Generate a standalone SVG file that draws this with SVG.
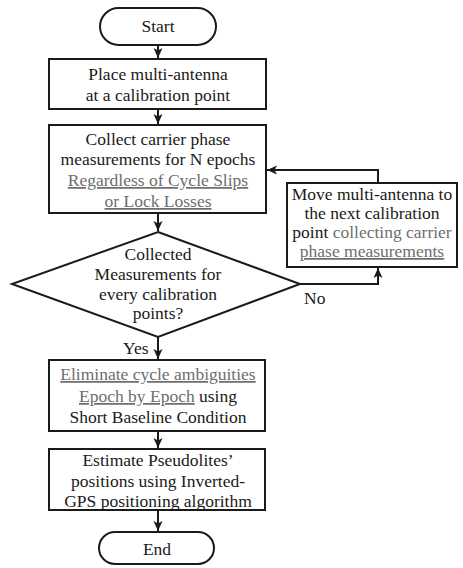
<svg xmlns="http://www.w3.org/2000/svg" width="463" height="568" viewBox="0 0 463 568">
<defs>
<marker id="ah" markerUnits="userSpaceOnUse" markerWidth="10" markerHeight="10" viewBox="0 0 10 10" refX="10" refY="5" orient="auto">
<path d="M0,0.5 L10,5 L0,9.5 L2.5,5 Z" fill="#1a1a1a"/>
</marker>
<style>
.s{fill:#fff;stroke:#1a1a1a;stroke-width:2}
.c{fill:none;stroke:#1a1a1a;stroke-width:2}
text{font-family:"Liberation Serif","Times New Roman",serif;font-size:17.5px;fill:#1a1a1a;text-anchor:middle}
.g{fill:#6e6e6e}
.u{text-decoration:underline}
.l{text-anchor:start}
</style>
</defs>
<g id="connectors">
<path class="c" d="M158,45 V58" marker-end="url(#ah)"/>
<path class="c" d="M158,109 V124" marker-end="url(#ah)"/>
<path class="c" d="M158,213 V231" marker-end="url(#ah)"/>
<path class="c" d="M158,337 V359" marker-end="url(#ah)"/>
<path class="c" d="M158,431 V448" marker-end="url(#ah)"/>
<path class="c" d="M158,510 V531" marker-end="url(#ah)"/>
<path class="c" d="M300,284 H378 V268" marker-end="url(#ah)"/>
<path class="c" d="M378,183 V170 H267" marker-end="url(#ah)"/>
<text class="l" x="304" y="304">No</text>
<text class="l" x="123" y="354">Yes</text>
</g>
<g id="start">
<rect class="s" x="100" y="8" width="116" height="37" rx="18.5"/>
<text x="158" y="32">Start</text>
</g>
<g id="place">
<rect class="s" x="49" y="59" width="217" height="50"/>
<text x="158" y="80">Place multi-antenna</text>
<text x="158" y="101">at a calibration point</text>
</g>
<g id="collect">
<rect class="s" x="49" y="125" width="217" height="88"/>
<text x="158" y="145">Collect carrier phase</text>
<text x="158" y="165">measurements for N epochs</text>
<text x="158" y="186" class="g u">Regardless of Cycle Slips</text>
<text x="158" y="207" class="g u">or Lock Losses</text>
</g>
<g id="move">
<rect class="s" x="287" y="183" width="170" height="84"/>
<text x="372" y="200">Move multi-antenna to</text>
<text x="372" y="219">the next calibration</text>
<text x="372" y="238">point <tspan class="g">collecting carrier</tspan></text>
<text x="372" y="257" class="g u">phase measurements</text>
</g>
<g id="decision">
<path class="s" d="M158,232 L300,284 L158,337 L12,284 Z"/>
<text x="158" y="260">Collected</text>
<text x="158" y="280">Measurements for</text>
<text x="158" y="300">every calibration</text>
<text x="158" y="319">points?</text>
</g>
<g id="eliminate">
<rect class="s" x="49" y="360" width="216" height="71"/>
<text x="158" y="380" class="g u">Eliminate cycle ambiguities</text>
<text x="158" y="402"><tspan class="g u">Epoch by Epoch</tspan> using</text>
<text x="158" y="423">Short Baseline Condition</text>
</g>
<g id="estimate">
<rect class="s" x="49" y="449" width="216" height="61"/>
<text x="158" y="466">Estimate Pseudolites’</text>
<text x="158" y="487">positions using Inverted-</text>
<text x="158" y="507">GPS positioning algorithm</text>
</g>
<g id="end">
<rect class="s" x="99" y="532" width="115" height="32" rx="16"/>
<text x="157" y="555">End</text>
</g>
</svg>
